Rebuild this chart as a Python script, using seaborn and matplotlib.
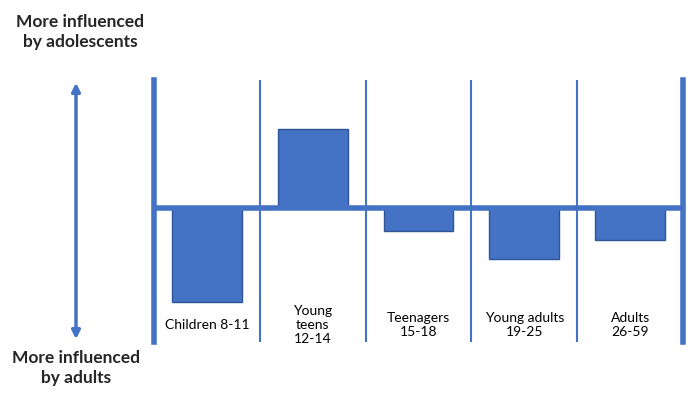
import matplotlib
matplotlib.use('Agg')
import matplotlib.pyplot as plt
import seaborn as sns
import pandas as pd

# data (pixels above the zero line)
categories = ['Children 8-11', 'Young teens 12-14', 'Teenagers 15-18',
              'Young adults 19-25', 'Adults 26-59']
labels = ['Children 8-11', 'Young\nteens\n12-14', 'Teenagers\n15-18',
          'Young adults\n19-25', 'Adults\n26-59']
scores = [-94, 79, -23, -51, -32]

BLUE = '#4472C4'
EDGE = '#2F5597'

sns.set_theme(style='white')
plt.rcParams['font.family'] = ['Lato', 'DejaVu Sans']

df = pd.DataFrame({'group': categories, 'score': scores})

fig = plt.figure(figsize=(7, 3.96), dpi=100)
ax = fig.add_axes([154 / 700, 1 - 342 / 396, (683 - 154) / 700, (342 - 80) / 396])

sns.barplot(data=df, x='group', y='score', color=BLUE, width=0.66,
            edgecolor=EDGE, linewidth=1, saturation=1, ax=ax)

ax.set_xlim(-0.5, 4.5)
ax.set_ylim(-134, 128)
ax.axhline(0, color=BLUE, lw=4, zorder=3)
for x in [0.5, 1.5, 2.5, 3.5]:
    ax.axvline(x, color=BLUE, lw=1.5, zorder=1)

for side in ['top', 'bottom']:
    ax.spines[side].set_visible(False)
for side in ['left', 'right']:
    ax.spines[side].set_color(BLUE)
    ax.spines[side].set_linewidth(4)

ax.set_xticks([])
ax.set_yticks([])
ax.set_xlabel('')
ax.set_ylabel('')

for i, lab in enumerate(labels):
    ax.text(i, -117, lab, ha='center', va='center', fontsize=10,
            color='black', linespacing=1.2)

# double-headed arrow on the left
fig.add_artist(matplotlib.patches.FancyArrowPatch(
    (76 / 700, 1 - 342 / 396), (76 / 700, 1 - 80 / 396),
    transform=fig.transFigure, arrowstyle='<|-|>', mutation_scale=12,
    color=BLUE, lw=2.5))

fig.text(80 / 700, 1 - 32 / 396, 'More influenced\nby adolescents', ha='center',
         va='center', fontsize=12.5, fontweight='bold', linespacing=1.25)
fig.text(76 / 700, 1 - 368 / 396, 'More influenced\nby adults', ha='center',
         va='center', fontsize=12.5, fontweight='bold', linespacing=1.25)

fig.savefig('out.png', dpi=100, facecolor='white')
